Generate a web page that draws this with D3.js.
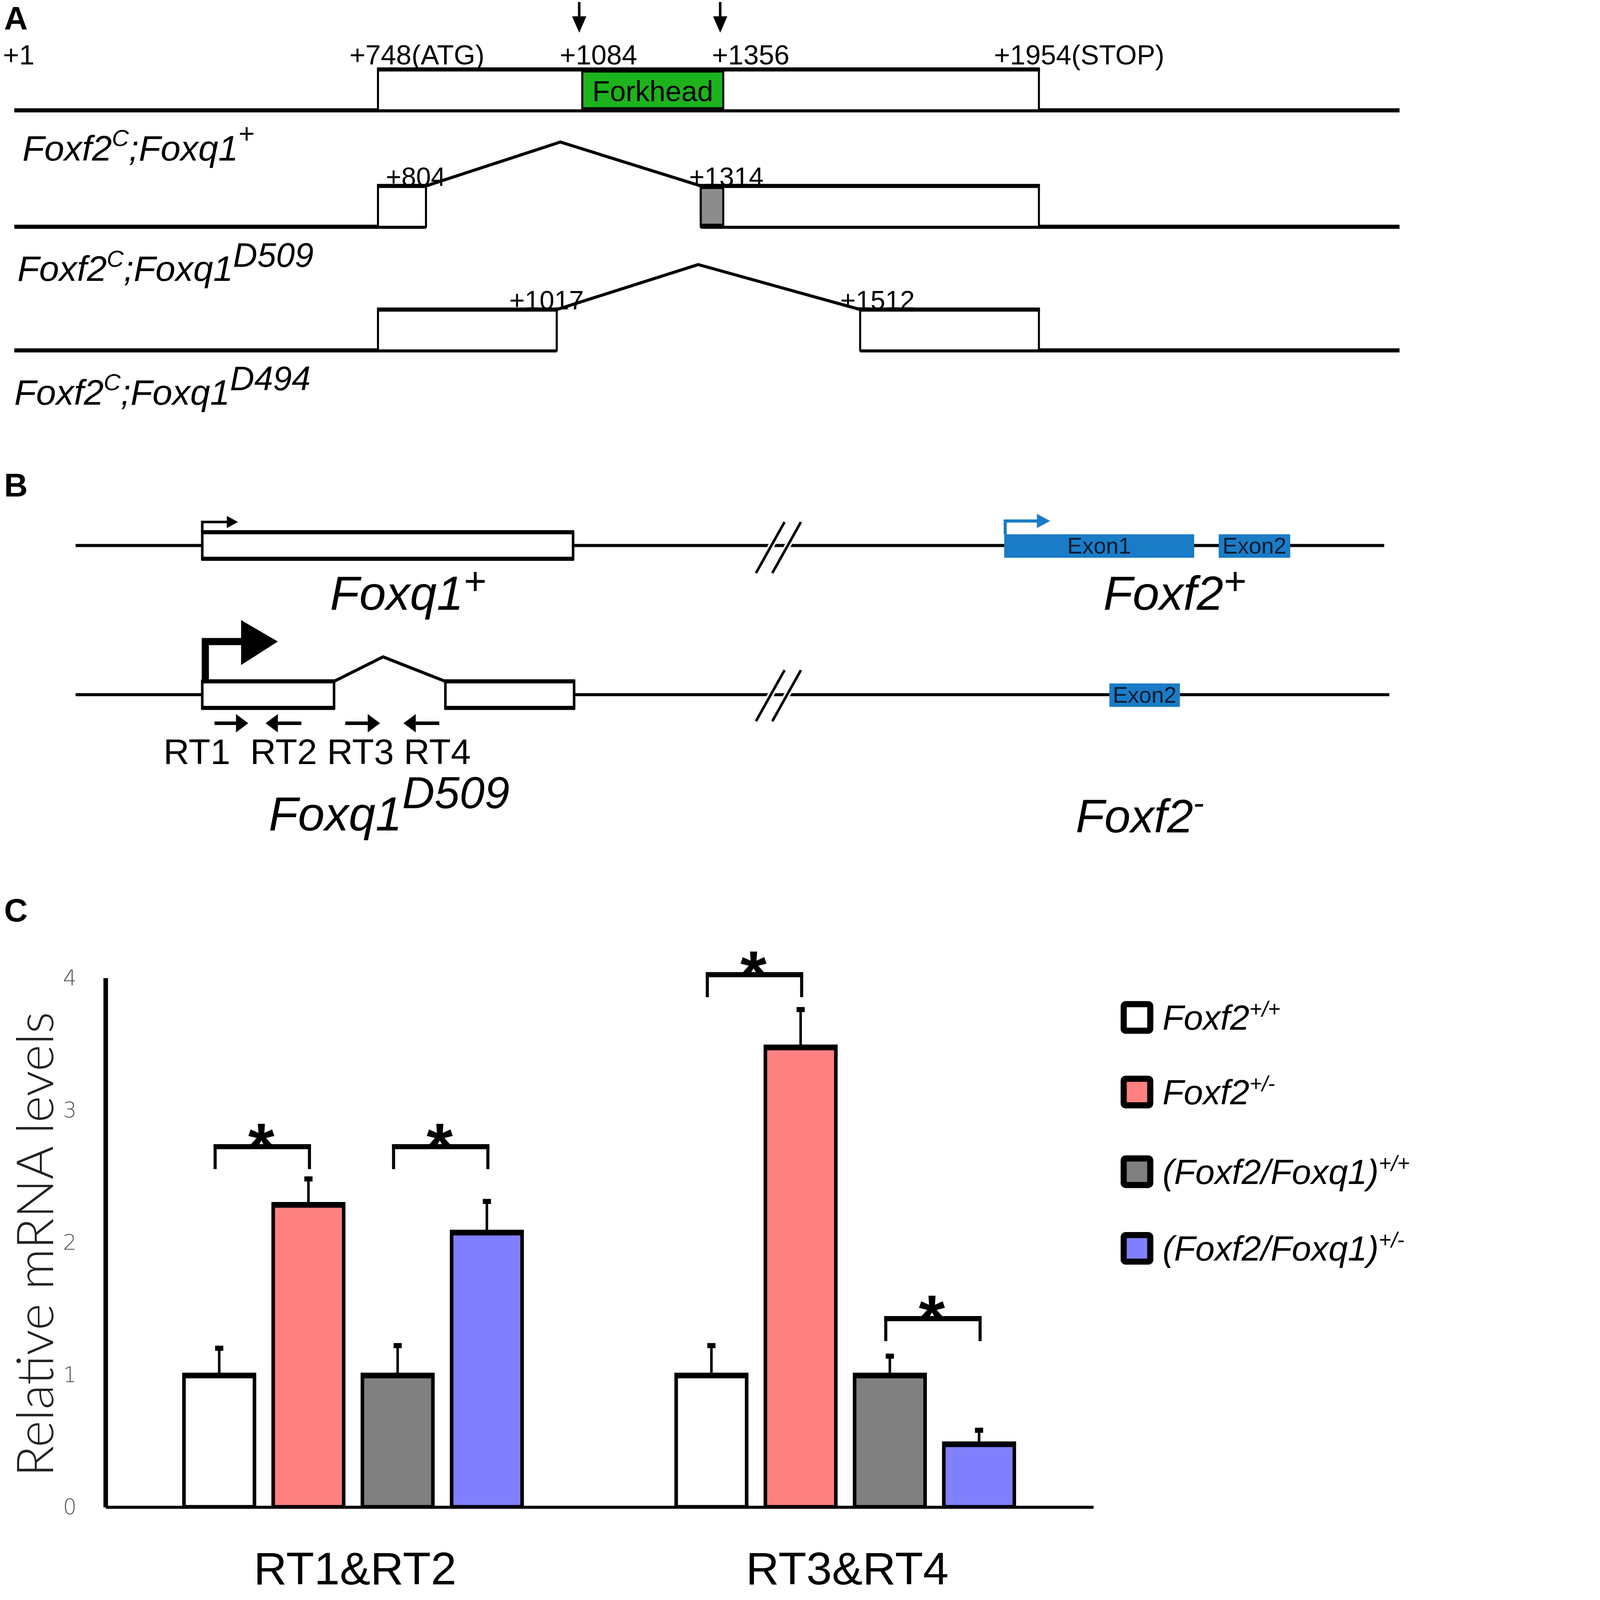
<!DOCTYPE html>
<html>
<head>
<meta charset="utf-8">
<script src="https://cdn.jsdelivr.net/npm/d3@7"></script>
<style>
  html, body { margin: 0; padding: 0; background: #fff; overflow: hidden; }
  svg { display: block; }
  text { font-family: "Liberation Sans", Arial, sans-serif; }
</style>
</head>
<body>
<svg id="fig"></svg>
<script>
// ---------- panel A: Foxf2 conditional allele (bp positions) ----------
const bpMarks = [1, 748, 1084, 1356, 1954];
const bpLabels = ["+1", "+748(ATG)", "+1084", "+1356", "+1954(STOP)"];
const cutSites = [1084, 1356];
const forkhead = [1084, 1356];
const exonsWT = [[748, 1954]];
const exonsD509 = [[748, 804], [1314, 1954]];
const residualD509 = [1314, 1356];
const exonsD494 = [[748, 1017], [1512, 1954]];
const junctionD509 = [804, 1314];
const junctionD494 = [1017, 1512];
const junctionLabels = [["+804", "+1314"], ["+1017", "+1512"]];

// ---------- panel B: schematic loci (arbitrary units) ----------
const foxq1WT = [[124, 487]];
const foxq1Del = [[124, 253], [362, 488]];
const foxf2WT = [[909, 1095, "Exon1"], [1119, 1189, "Exon2"]];
const foxf2Del = [[1012, 1081, "Exon2"]];
const primers = [[136, 169, 1], [186, 221, -1], [264, 298, 1], [321, 356, -1]];

// ---------- panel C: qRT-PCR ----------
const groups = ["RT1&RT2", "RT3&RT4"];
const genotypes = ["wt", "het", "dwt", "dhet"];
const legendBase = ["Foxf2", "Foxf2", "(Foxf2/Foxq1)", "(Foxf2/Foxq1)"];
const legendSup = ["+/+", "+/-", "+/+", "+/-"];
const meanRT12 = [1.0, 2.29, 1.0, 2.08];
const meanRT34 = [1.0, 3.48, 1.0, 0.48];
const semRT12 = [0.21, 0.20, 0.23, 0.24];
const semRT34 = [0.23, 0.29, 0.15, 0.11];
const yTicks = [0, 1, 2, 3, 4];
const brackets = [
  { group: "RT1&RT2", a: "wt", b: "het", h: 2.73 },
  { group: "RT1&RT2", a: "dwt", b: "dhet", h: 2.73 },
  { group: "RT3&RT4", a: "wt", b: "het", h: 4.03 },
  { group: "RT3&RT4", a: "dwt", b: "dhet", h: 1.43 }
];

// drawing units: 1385 wide, fitted into the window through the viewBox
const VW = 1385, VH = 1385 * 5159 / 4562;
const fit = Math.min(window.innerWidth / VW, window.innerHeight / VH);
const svg = d3.select("#fig")
  .attr("viewBox", `0 0 ${VW} ${VH}`)
  .attr("width", VW * fit)
  .attr("height", VH * fit);
svg.append("rect").attr("width", VW).attr("height", VH).attr("fill", "#fff");
const root = svg.append("g");

// text with superscript parts: [text, size, rise]
function rich(g, x, y, parts, anchor, italic) {
  const t = g.append("text").attr("x", x).attr("y", y)
    .attr("text-anchor", anchor || "start")
    .style("font-style", italic ? "italic" : "normal");
  let cur = 0;
  parts.forEach(p => {
    const rise = p[2] || 0;
    t.append("tspan").attr("dy", cur - rise).style("font-size", p[1] + "px").text(p[0]);
    cur = rise;
  });
  return t;
}

function panelLetter(x, y, s) {
  root.append("text").attr("x", x).attr("y", y).style("font-size", "32px")
    .style("font-weight", "bold").text(s);
}

// ===================== PANEL A =====================
panelLetter(4, 29, "A");
const xA = d3.scaleLinear()
  .domain([1, 748, 804, 1017, 1084, 1314, 1356, 1512, 1954, 2400])
  .range([14, 370, 417, 545, 570, 686, 708, 842, 1017, 1370]);
const gA = root.append("g");

const labelDx = [-11, -28, -22, -11, -44];
gA.selectAll(".bp").data(bpMarks).join("text")
  .attr("x", (d, i) => xA(d) + labelDx[i]).attr("y", 63)
  .style("font-size", "27px").text((d, i) => bpLabels[i]);

cutSites.forEach(c => {
  const x = xA(c) - 3;
  gA.append("line").attr("x1", x).attr("x2", x).attr("y1", 2).attr("y2", 20)
    .attr("stroke", "#000").attr("stroke-width", 2.5);
  gA.append("path").attr("d", `M${x - 7},16L${x + 7},16L${x},32Z`).attr("fill", "#000");
});

const rowsA = [
  { y: 108, exons: exonsWT, fill: forkhead, fillColor: "#1db31d", junction: null },
  { y: 222, exons: exonsD509, fill: residualD509, fillColor: "#8c8c8c", junction: junctionD509, peak: 43, apex: -3, labels: junctionLabels[0] },
  { y: 343, exons: exonsD494, fill: null, junction: junctionD494, peak: 44, apex: -10, labels: junctionLabels[1] }
];
const boxH = 40;
rowsA.forEach(r => {
  const top = r.y - boxH;
  // baseline, interrupted where the intron is spliced out
  const segs = r.junction ? [[1, r.junction[0]], [r.junction[1], 2400]] : [[1, 2400]];
  segs.forEach(s => gA.append("line").attr("x1", xA(s[0])).attr("x2", xA(s[1]))
    .attr("y1", r.y).attr("y2", r.y).attr("stroke", "#000").attr("stroke-width", 4));
  r.exons.forEach(e => {
    gA.append("rect").attr("x", xA(e[0])).attr("y", top).attr("width", xA(e[1]) - xA(e[0]))
      .attr("height", boxH).attr("fill", "#fff").attr("stroke", "#000").attr("stroke-width", 2);
    gA.append("line").attr("x1", xA(e[0]) - 1).attr("x2", xA(e[1]) + 1).attr("y1", top).attr("y2", top)
      .attr("stroke", "#000").attr("stroke-width", 4);
  });
  if (r.fill) {
    gA.append("rect").attr("x", xA(r.fill[0])).attr("y", top + 2).attr("width", xA(r.fill[1]) - xA(r.fill[0]))
      .attr("height", boxH - 4).attr("fill", r.fillColor).attr("stroke", "#000").attr("stroke-width", 2);
  }
  if (r.junction) {
    const j0 = xA(r.junction[0]), j1 = xA(r.junction[1]);
    gA.append("text").attr("x", j0 - 10).attr("y", top).attr("text-anchor", "middle")
      .style("font-size", "26px").text(r.labels[0]);
    gA.append("text").attr("x", j1 + (r.labels[1] === "+1314" ? 25 : 17)).attr("y", top).attr("text-anchor", "middle")
      .style("font-size", "26px").text(r.labels[1]);
    gA.append("path").attr("d", `M${j0},${top}L${(j0 + j1) / 2 + r.apex},${top - r.peak}L${j1},${top}`)
      .attr("fill", "none").attr("stroke", "#000").attr("stroke-width", 3);
  }
});
gA.append("text").attr("x", (xA(forkhead[0]) + xA(forkhead[1])) / 2).attr("y", 99)
  .attr("text-anchor", "middle").style("font-size", "28px").text("Forkhead");

rich(gA, 22, 157, [["Foxf2", 35], ["C", 23, 14], [";Foxq1", 35], ["+", 27, 17]], "start", true);
rich(gA, 17, 275, [["Foxf2", 35], ["C", 23, 14], [";Foxq1", 35], ["D509", 33, 14]], "start", true);
rich(gA, 14, 396, [["Foxf2", 35], ["C", 23, 14], [";Foxq1", 35], ["D494", 33, 14]], "start", true);

// ===================== PANEL B =====================
panelLetter(4, 486, "B");
const xB = d3.scaleLinear().domain([0, 1286]).range([74, 1360]);
const gB = root.append("g");
const blue = "#1a7cc6";

function breakMark(cx, cy) {
  [-8, 8].forEach(o => gB.append("line")
    .attr("x1", cx + o - 14).attr("y1", cy + 25).attr("x2", cx + o + 14).attr("y2", cy - 25)
    .attr("stroke", "#fff").attr("stroke-width", 6));
  [-8, 8].forEach(o => gB.append("line")
    .attr("x1", cx + o - 14).attr("y1", cy + 25).attr("x2", cx + o + 14).attr("y2", cy - 25)
    .attr("stroke", "#000").attr("stroke-width", 2.5));
}

function locus(y, q1, junction, f2, endX) {
  const bh = 26, top = y - 13, bot = y + 13;
  const segs = junction ? [[0, q1[0][1]], [q1[1][0], 1286 + endX]] : [[0, 1286 + endX]];
  segs.forEach(s => gB.append("line").attr("x1", xB(s[0])).attr("x2", xB(s[1])).attr("y1", y).attr("y2", y)
    .attr("stroke", "#000").attr("stroke-width", 3));
  q1.forEach(e => {
    gB.append("rect").attr("x", xB(e[0])).attr("y", top).attr("width", xB(e[1]) - xB(e[0])).attr("height", bh)
      .attr("fill", "#fff").attr("stroke", "#000").attr("stroke-width", 2.5);
    [top, bot].forEach(yy => gB.append("line").attr("x1", xB(e[0]) - 1).attr("x2", xB(e[1]) + 1)
      .attr("y1", yy).attr("y2", yy).attr("stroke", "#000").attr("stroke-width", 4));
  });
  if (junction) {
    const a = xB(q1[0][1]), b = xB(q1[1][0]);
    gB.append("path").attr("d", `M${a},${top}L${xB(301)},${top - 24}L${b},${top}`)
      .attr("fill", "none").attr("stroke", "#000").attr("stroke-width", 3);
  }
  f2.forEach(e => {
    gB.append("rect").attr("x", xB(e[0])).attr("y", y - 11).attr("width", xB(e[1]) - xB(e[0])).attr("height", 23)
      .attr("fill", blue);
    gB.append("text").attr("x", (xB(e[0]) + xB(e[1])) / 2).attr("y", y + 8).attr("text-anchor", "middle")
      .style("font-size", "22px").attr("fill", "#0d1a2e").text(e[2]);
  });
}

locus(534, foxq1WT, false, foxf2WT, -5);
locus(680, foxq1Del, true, foxf2Del, 0);
breakMark(762, 536);
breakMark(762, 681);

// small promoter arrows (top locus)
const p0 = xB(foxq1WT[0][0]);
gB.append("path").attr("d", `M${p0},521V511H${p0 + 25}`).attr("fill", "none").attr("stroke", "#000").attr("stroke-width", 2.5);
gB.append("path").attr("d", `M${p0 + 24},505L${p0 + 35},511L${p0 + 24},517Z`).attr("fill", "#000");
const f0 = xB(foxf2WT[0][0]);
gB.append("path").attr("d", `M${f0 + 1},523V510H${f0 + 33}`).attr("fill", "none").attr("stroke", blue).attr("stroke-width", 3);
gB.append("path").attr("d", `M${f0 + 32},503L${f0 + 45},510L${f0 + 32},517Z`).attr("fill", blue);
// strong promoter arrow (Foxq1 D509)
const p1 = xB(foxq1Del[0][0]);
gB.append("path").attr("d", `M${p1 + 3},667V628H${p1 + 42}`).attr("fill", "none").attr("stroke", "#000").attr("stroke-width", 7);
gB.append("path").attr("d", `M${p1 + 38},607L${p1 + 74},628L${p1 + 38},651Z`).attr("fill", "#000");

// primers
primers.forEach(p => {
  const a = xB(p[0]), b = xB(p[1]), y = 708;
  const tip = p[2] > 0 ? b : a, tail = p[2] > 0 ? a : b;
  const back = tip - p[2] * 12;
  gB.append("line").attr("x1", tail).attr("x2", back).attr("y1", y).attr("y2", y)
    .attr("stroke", "#000").attr("stroke-width", 3.5);
  gB.append("path").attr("d", `M${back},${y - 9}L${tip},${y}L${back},${y + 9}Z`).attr("fill", "#000");
});
gB.append("text").attr("x", 160).attr("y", 748).attr("xml:space", "preserve")
  .style("font-size", "35px").style("white-space", "pre").text("RT1  RT2 RT3 RT4");

rich(gB, 323, 597, [["Foxq1", 47], ["+", 38, 15]], "start", true);
rich(gB, 1080, 597, [["Foxf2", 47], ["+", 38, 15]], "start", true);
rich(gB, 263, 813, [["Foxq1", 47], ["D509", 44, 22]], "start", true);
rich(gB, 1053, 815, [["Foxf2", 46], ["-", 32, 18]], "start", true);

// ===================== PANEL C =====================
panelLetter(4, 902, "C");
const gC = root.append("g");
const y = d3.scaleLinear().domain([0, 4]).range([1475, 957]);
const x0 = d3.scaleBand().domain(groups).range([103, 1070]).paddingInner(0.313).paddingOuter(0.16);
const x1 = d3.scaleBand().domain(genotypes).range([0, x0.bandwidth()]).paddingInner(0.21);
const color = d3.scaleOrdinal().domain(genotypes).range(["#ffffff", "#ff8080", "#808080", "#8080ff"]);

const rows = [
  { group: "RT1&RT2", means: meanRT12, sems: semRT12 },
  { group: "RT3&RT4", means: meanRT34, sems: semRT34 }
];
const bars = rows.flatMap(r => genotypes.map((g, i) => ({ group: r.group, geno: g, v: r.means[i], e: r.sems[i] })));
const bx = d => x0(d.group) + x1(d.geno);

// error bars
gC.selectAll(".err").data(bars).join("line")
  .attr("x1", d => bx(d) + x1.bandwidth() / 2).attr("x2", d => bx(d) + x1.bandwidth() / 2)
  .attr("y1", d => y(d.v)).attr("y2", d => y(d.v + d.e))
  .attr("stroke", "#000").attr("stroke-width", 2.5);
gC.selectAll(".cap").data(bars).join("rect")
  .attr("x", d => bx(d) + x1.bandwidth() / 2 - 4).attr("y", d => y(d.v + d.e) - 1)
  .attr("width", 8).attr("height", 5).attr("fill", "#000");

gC.selectAll(".bar").data(bars).join("rect")
  .attr("x", bx).attr("y", d => y(d.v)).attr("width", x1.bandwidth())
  .attr("height", d => y(0) - y(d.v)).attr("fill", d => color(d.geno))
  .attr("stroke", "#000").attr("stroke-width", 3.5);
gC.selectAll(".bartop").data(bars).join("line")
  .attr("x1", d => bx(d) - 1.5).attr("x2", d => bx(d) + x1.bandwidth() + 1.5)
  .attr("y1", d => y(d.v) + 1).attr("y2", d => y(d.v) + 1)
  .attr("stroke", "#000").attr("stroke-width", 5.5);

// axes
const yAxis = gC.append("g").attr("transform", "translate(103,0)")
  .call(d3.axisLeft(y).tickValues(yTicks).tickSize(0).tickPadding(28).tickFormat(d3.format("d")));
yAxis.select(".domain").attr("stroke", "#000").attr("stroke-width", 4.5);
yAxis.selectAll("text").style("font-size", "21px").style("font-family", "'DejaVu Sans', sans-serif")
  .style("font-weight", "200").attr("fill", "#555");
const xAxis = gC.append("g").attr("transform", `translate(0,${y(0)})`)
  .call(d3.axisBottom(x0).tickSize(0).tickPadding(44));
xAxis.select(".domain").attr("stroke", "#000").attr("stroke-width", 3);
xAxis.selectAll("text").style("font-size", "45px").attr("fill", "#000").attr("dx", 2);

gC.append("text").attr("transform", "translate(52,1218) rotate(-90)").attr("text-anchor", "middle")
  .style("font-family", "Lato, 'Liberation Sans', sans-serif").style("font-weight", "300")
  .style("font-size", "50px").attr("fill", "#222").text("Relative mRNA levels");

// significance brackets
const cx = (g, geno) => x0(g) + x1(geno) + x1.bandwidth() / 2;
brackets.forEach(b => {
  const xa = cx(b.group, b.a) - 4, xb = cx(b.group, b.b) + 1, yy = y(b.h);
  gC.append("path").attr("d", `M${xa},${yy + 23}V${yy}H${xb}V${yy + 23}`)
    .attr("fill", "none").attr("stroke", "#000").attr("stroke-width", 3);
  gC.append("line").attr("x1", xa - 1.5).attr("x2", xb + 1.5).attr("y1", yy + 1).attr("y2", yy + 1)
    .attr("stroke", "#000").attr("stroke-width", 5);
  gC.append("text").attr("x", (xa + xb) / 2 - 1).attr("y", yy + 24).attr("text-anchor", "middle")
    .style("font-size", "66px").style("font-weight", "bold").text("*");
});

// legend
const legendY = [996, 1069, 1147, 1222];
const lg = gC.append("g");
genotypes.forEach((g, i) => {
  lg.append("rect").attr("x", 1100).attr("y", legendY[i] - 13).attr("width", 26).attr("height", 26)
    .attr("rx", 2).attr("fill", color(g)).attr("stroke", "#000").attr("stroke-width", 6);
  rich(lg, 1138, legendY[i] + 12, [[legendBase[i], 34], [legendSup[i], 21, 13]], "start", true);
});
</script>
</body>
</html>
